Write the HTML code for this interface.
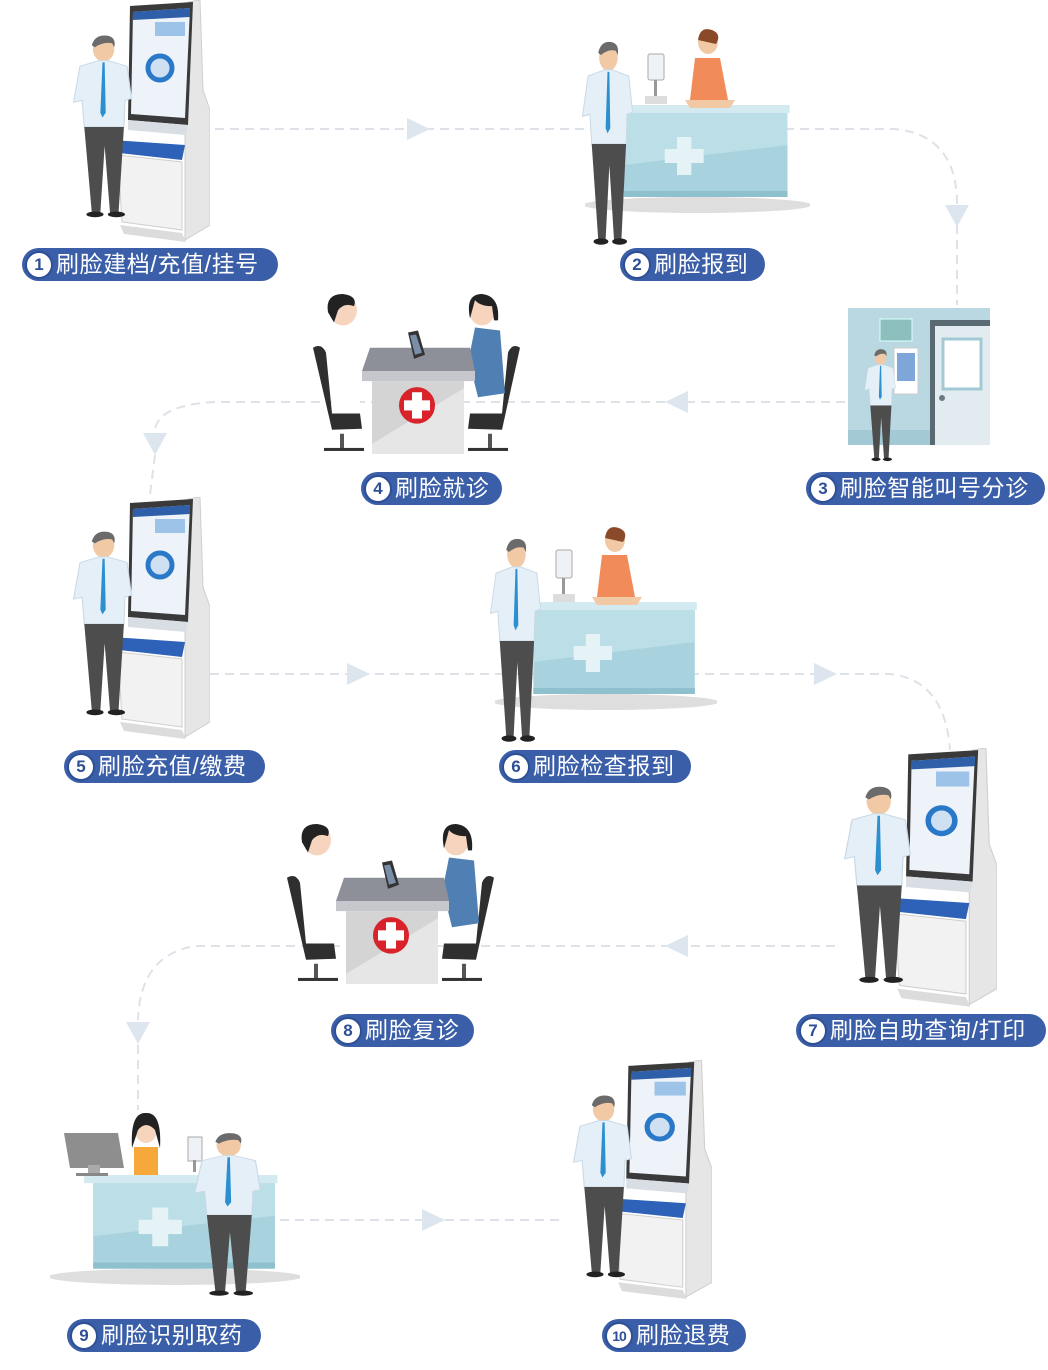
<!DOCTYPE html>
<html><head><meta charset="utf-8">
<style>
html,body{margin:0;padding:0;background:#fff;}
body{width:1048px;height:1370px;position:relative;overflow:hidden;font-family:"Liberation Sans","Noto Sans CJK SC",sans-serif;}
svg{position:absolute;left:0;top:0;}
.pill{position:absolute;height:33px;background:#3a5ea8;border-radius:17px;color:#fff;font-size:23px;letter-spacing:0.6px;line-height:33px;white-space:nowrap;box-sizing:border-box;padding-left:34px;}
.pill b{position:absolute;left:3px;top:3px;width:24px;height:24px;border-radius:50%;background:#fff;border:2px solid #2d4f95;color:#2d4f95;font-size:17px;line-height:24px;text-align:center;font-weight:bold;letter-spacing:0;}
</style></head><body>
<svg width="1048" height="1370" viewBox="0 0 1048 1370">
<defs>
<symbol id="kiosk" viewBox="0 0 110 245" preserveAspectRatio="none">
<polygon points="88,2 100,0 103,90 110,110 110,225 85,240 85,120" fill="#e6e6e6" stroke="#cfcfcf"/>
<polygon points="30,6 93,2 88,125 28,120" fill="#3a3a3a"/>
<polygon points="33,12 90,8 85,118 31,114" fill="#eef3f9"/>
<polygon points="33,12 90,8 90,17 33,20" fill="#2f5fa8"/>
<rect x="55" y="22" width="30" height="14" fill="#9ec3e8"/>
<circle cx="60" cy="68" r="12" fill="#cfe0f3" stroke="#2a78c8" stroke-width="5"/>
<polygon points="28,120 88,125 86,135 28,130" fill="#d9dde4"/>
<polygon points="12,140 85,145 82,160 10,152" fill="#2d62b8"/>
<polygon points="18,155 82,162 82,230 22,222" fill="#f2f2f2" stroke="#cfcfcf"/>
<polygon points="20,225 82,233 86,242 24,234" fill="#dcdcdc"/>
</symbol>
<symbol id="man" viewBox="0 0 70 200" preserveAspectRatio="none">
<ellipse cx="36" cy="18" rx="10" ry="13" fill="#f1c9a5"/>
<path d="M25 14 Q28 2 40 4 Q48 6 46 16 L44 12 Q36 10 28 16 Z" fill="#6b6b6b"/>
<polygon points="14,36 32,30 40,30 58,36 62,70 56,72 55,100 18,100 16,72 8,74" fill="#e5eff7" stroke="#c9d9e6"/>
<polygon points="35,32 37,32 38,85 35,90 33,85" fill="#2b8fd0"/>
<polygon points="18,100 55,100 50,190 42,190 37,120 33,190 25,190" fill="#4d4d4d"/>
<ellipse cx="28" cy="192" rx="8" ry="3" fill="#222"/>
<ellipse cx="48" cy="192" rx="8" ry="3" fill="#222"/>
</symbol>
<symbol id="counter" viewBox="0 0 220 110" preserveAspectRatio="none">
<ellipse cx="110" cy="100" rx="112" ry="8" fill="#dedede"/>
<rect x="38" y="6" width="160" height="86" fill="#a8d3de"/>
<polygon points="38,6 198,6 198,40 38,60" fill="#bcdfe7"/>
<rect x="30" y="0" width="170" height="8" fill="#d3eaf0"/>
<rect x="90" y="32" width="14" height="38" fill="#e6f3f6"/>
<rect x="78" y="44" width="38" height="14" fill="#e6f3f6"/>
<rect x="38" y="86" width="160" height="6" fill="#8fc0cd"/>
</symbol>
<symbol id="doc" viewBox="0 0 215 160" preserveAspectRatio="none">
<path d="M3 55 Q12 50 16 60 L22 120 L50 120 L52 135 L22 136 Z" fill="#2f2f2f"/>
<rect x="30" y="140" width="4" height="15" fill="#555"/><rect x="14" y="154" width="40" height="3" fill="#333"/>
<path d="M210 55 Q202 50 198 60 L192 120 L160 120 L158 135 L192 136 Z" fill="#2f2f2f"/>
<rect x="178" y="140" width="4" height="15" fill="#555"/><rect x="158" y="154" width="40" height="3" fill="#333"/>
<ellipse cx="33" cy="18" rx="14" ry="15" fill="#f6d4bd"/>
<path d="M18 20 Q15 2 33 2 Q48 4 44 14 Q34 10 28 18 L24 30 Z" fill="#222"/>
<polygon points="20,35 45,40 80,70 50,72 50,118 22,118" fill="#fff"/>
<ellipse cx="172" cy="18" rx="13" ry="15" fill="#f6d4bd"/>
<path d="M160 26 Q155 2 172 2 Q190 4 188 28 L184 28 L182 14 Q170 14 165 8 Z" fill="#222"/>
<polygon points="165,35 190,38 195,100 168,104 162,80 130,78 128,70 160,60" fill="#4f7fb3"/>
<polygon points="60,55 160,55 165,78 52,78" fill="#8e9099"/>
<polygon points="52,78 165,78 165,88 52,88" fill="#c5c7cc"/>
<rect x="62" y="88" width="92" height="72" fill="#e6e6e6"/>
<polygon points="62,88 154,88 154,95 62,150" fill="#d4d4d4"/>
<circle cx="107" cy="112" r="18" fill="#d8232a"/>
<rect x="102" y="99" width="10" height="26" fill="#fff"/><rect x="94" y="107" width="26" height="10" fill="#fff"/>
<polygon points="98,40 108,38 115,62 104,66" fill="#333"/>
<polygon points="100,43 106,42 112,60 105,62" fill="#7a8ea8"/>
</symbol>
</defs>

<g fill="none" stroke="#dde2e8" stroke-width="2" stroke-dasharray="9,6">
<path d="M215 129 L895 129 Q955 135 957 200 L957 305"/>
<path d="M845 402 L215 402 Q158 405 155 430"/>
<path d="M155 455 L150 495"/>
<path d="M210 674 L890 674 Q945 680 950 750"/>
<path d="M835 946 L195 946 Q140 955 138 1020"/>
<path d="M138 1045 L138 1110"/>
<path d="M265 1220 L560 1220"/>
</g>
<g fill="#dde5ee">
<polygon points="407,118 430,129 407,140"/>
<polygon points="945,205 969,205 957,227"/>
<polygon points="688,391 665,402 688,413"/>
<polygon points="143,433 167,433 155,455"/>
<polygon points="347,663 370,674 347,685"/>
<polygon points="814,663 837,674 814,685"/>
<polygon points="688,935 665,946 688,957"/>
<polygon points="126,1022 150,1022 138,1044"/>
<polygon points="422,1209 445,1220 422,1231"/>
</g>

<use href="#kiosk" x="100" y="0" width="110" height="245"/>
<use href="#man" x="65" y="32" width="75" height="190"/>
<use href="#counter" x="585" y="105" width="225" height="110"/>
<g><ellipse cx="708" cy="42" rx="10" ry="12" fill="#f1c9a5"/><path d="M698 40 Q700 26 712 30 Q722 34 716 44 Z" fill="#8a4a2a"/><polygon points="695,58 720,58 728,100 690,100" fill="#f28b5a"/><polygon points="685,100 735,100 730,108 690,108" fill="#f1c9a5"/>
<rect x="648" y="54" width="16" height="26" rx="2" fill="#eef2f6" stroke="#aaa"/><rect x="654" y="80" width="3" height="18" fill="#999"/><rect x="645" y="96" width="22" height="8" fill="#ddd"/></g>
<use href="#man" x="575" y="38" width="65" height="212"/>
<rect x="848" y="308" width="142" height="137" fill="#b9d8e2"/>
<rect x="848" y="430" width="142" height="15" fill="#a3c9d5"/>
<rect x="930" y="320" width="60" height="125" fill="#5a6a72"/>
<rect x="935" y="326" width="55" height="119" fill="#e2ecf0"/>
<rect x="943" y="339" width="38" height="50" fill="#fff" stroke="#a3c9d5" stroke-width="3"/>
<circle cx="942" cy="398" r="3" fill="#6a7a82"/>
<rect x="880" y="319" width="32" height="22" fill="#8dbfbf" stroke="#dff" />
<rect x="894" y="348" width="24" height="46" fill="#fff" stroke="#ccc"/>
<rect x="897" y="353" width="18" height="28" fill="#7fa6d8"/>
<use href="#man" x="860" y="347" width="40" height="117"/>
<use href="#doc" x="310" y="292" width="215" height="162"/>
<use href="#kiosk" x="100" y="497" width="110" height="245"/>
<use href="#man" x="65" y="528" width="75" height="192"/>
<use href="#counter" x="495" y="602" width="222" height="110"/>
<g><ellipse cx="615" cy="540" rx="10" ry="12" fill="#f1c9a5"/><path d="M605 538 Q607 524 619 528 Q629 532 623 542 Z" fill="#8a4a2a"/><polygon points="602,555 627,555 635,597 597,597" fill="#f28b5a"/><polygon points="592,597 642,597 637,605 597,605" fill="#f1c9a5"/>
<rect x="556" y="550" width="16" height="28" rx="2" fill="#eef2f6" stroke="#aaa"/><rect x="562" y="578" width="3" height="18" fill="#999"/><rect x="553" y="594" width="22" height="8" fill="#ddd"/></g>
<use href="#man" x="483" y="535" width="65" height="212"/>
<use href="#kiosk" x="875" y="748" width="122" height="262"/>
<use href="#man" x="835" y="783" width="85" height="205"/>
<use href="#doc" x="284" y="822" width="215" height="162"/>
<use href="#counter" x="50" y="1175" width="250" height="112"/>
<polygon points="64,1133 118,1133 124,1168 70,1168" fill="#8e8e8e"/>
<rect x="88" y="1165" width="12" height="10" fill="#aaa"/><rect x="76" y="1173" width="32" height="3" fill="#888"/>
<ellipse cx="146" cy="1130" rx="11" ry="13" fill="#f6d4bd"/>
<path d="M132 1148 Q130 1112 146 1113 Q162 1112 160 1148 L155 1130 Q146 1120 138 1130 Z" fill="#222"/>
<polygon points="134,1147 158,1147 158,1175 134,1175" fill="#f6a93a"/>
<rect x="188" y="1137" width="14" height="24" fill="#eef2f6" stroke="#aaa"/><rect x="193" y="1160" width="3" height="12" fill="#999"/>
<use href="#man" x="185" y="1130" width="85" height="170"/>
<use href="#kiosk" x="597" y="1060" width="115" height="242"/>
<use href="#man" x="565" y="1092" width="75" height="190"/>
</svg>

<div class="pill" style="left:22px;top:248px;width:256px;"><b>1</b>刷脸建档/充值/挂号</div>
<div class="pill" style="left:620px;top:248px;width:145px;"><b>2</b>刷脸报到</div>
<div class="pill" style="left:806px;top:472px;width:239px;"><b>3</b>刷脸智能叫号分诊</div>
<div class="pill" style="left:361px;top:472px;width:141px;"><b>4</b>刷脸就诊</div>
<div class="pill" style="left:64px;top:750px;width:201px;"><b>5</b>刷脸充值/缴费</div>
<div class="pill" style="left:499px;top:750px;width:192px;"><b>6</b>刷脸检查报到</div>
<div class="pill" style="left:796px;top:1014px;width:250px;"><b>7</b>刷脸自助查询/打印</div>
<div class="pill" style="left:331px;top:1014px;width:143px;"><b>8</b>刷脸复诊</div>
<div class="pill" style="left:67px;top:1319px;width:194px;"><b>9</b>刷脸识别取药</div>
<div class="pill" style="left:602px;top:1319px;width:144px;"><b style="font-size:14px;letter-spacing:-1px;">10</b>刷脸退费</div>
</body></html>
